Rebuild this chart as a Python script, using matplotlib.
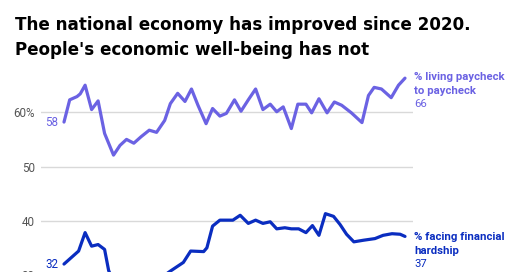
import matplotlib
matplotlib.use("Agg")
import matplotlib.pyplot as plt

plt.rcParams['font.family'] = ['Roboto', 'DejaVu Sans']

title_lines = ["The national economy has improved since 2020.",
               "People's economic well-being has not"]

# time as fractional year
paycheck_t = [2020.20, 2020.27, 2020.36, 2020.40, 2020.46, 2020.54, 2020.62, 2020.70,
              2020.81, 2020.89, 2020.97, 2021.06, 2021.15, 2021.25, 2021.34, 2021.44,
              2021.51, 2021.60, 2021.69, 2021.77, 2021.85, 2021.95, 2022.03, 2022.12,
              2022.20, 2022.30, 2022.38, 2022.47, 2022.56, 2022.65, 2022.74, 2022.82,
              2022.90, 2023.00, 2023.08, 2023.18, 2023.25, 2023.34, 2023.44, 2023.53,
              2023.62, 2023.74, 2023.87, 2023.95, 2024.02, 2024.11, 2024.23, 2024.32,
              2024.40]
paycheck_v = [58.2, 62.3, 62.9, 63.4, 65.0, 60.5, 62.1, 56.1,
              52.1, 53.9, 55.0, 54.3, 55.5, 56.7, 56.3, 58.5,
              61.6, 63.5, 62.0, 64.3, 61.3, 57.9, 60.7, 59.3,
              59.8, 62.3, 60.2, 62.3, 64.3, 60.5, 61.5, 60.1,
              61.0, 57.0, 61.5, 61.5, 59.9, 62.5, 59.9, 61.9,
              61.3, 59.9, 58.1, 63.1, 64.6, 64.3, 62.7, 65.0,
              66.3]

hardship_t = [2020.20, 2020.38, 2020.46, 2020.54, 2020.62, 2020.70, 2020.75,
              2020.85, 2021.00, 2021.20, 2021.35,
              2021.51, 2021.67, 2021.76, 2021.92, 2021.96, 2022.03, 2022.12,
              2022.28, 2022.37, 2022.47, 2022.56, 2022.65, 2022.74, 2022.82,
              2022.92, 2023.00, 2023.09, 2023.18, 2023.26, 2023.34, 2023.42,
              2023.52, 2023.60, 2023.68, 2023.77, 2023.89, 2024.03, 2024.13,
              2024.24, 2024.34, 2024.40]
hardship_v = [32.0, 34.4, 37.8, 35.3, 35.6, 34.7, 30.8,
              27.5, 26.8, 27.2, 29.0,
              30.7, 32.3, 34.4, 34.3, 35.0, 39.0, 40.1,
              40.1, 41.0, 39.5, 40.1, 39.5, 39.8, 38.5,
              38.7, 38.5, 38.5, 37.8, 39.1, 37.3, 41.3,
              40.8, 39.3, 37.5, 36.1, 36.4, 36.7, 37.3,
              37.6, 37.5, 37.1]

y_ticks = [30, 40, 50, 60]
y_tick_labels = ["30", "40", "50", "60%"]

paycheck_name = ["% living paycheck", "to paycheck"]
hardship_name = ["% facing financial", "hardship"]

PURPLE = "#6B62E3"
BLUE = "#0A2DC0"

W, H = 520, 272
fig = plt.figure(figsize=(W / 100, H / 100), dpi=100)

# axes in pixel geometry
y_lo, y_hi = 20, 70
px_per_unit = 5.42
y60 = 112.3
top_px = y60 - (y_hi - 60) * px_per_unit
bot_px = y60 + (60 - y_lo) * px_per_unit
left_px, right_px = 41, 413
ax = fig.add_axes([left_px / W, (H - bot_px) / H, (right_px - left_px) / W, (bot_px - top_px) / H])
ax.set_ylim(y_lo, y_hi)
px_per_year = (405 - 64) / (paycheck_t[-1] - paycheck_t[0])
ax.set_xlim(paycheck_t[0] - (64 - left_px) / px_per_year,
            paycheck_t[-1] + (right_px - 405) / px_per_year)

for s in ax.spines.values():
    s.set_visible(False)
ax.set_xticks([])
ax.set_yticks(y_ticks)
ax.set_yticklabels(y_tick_labels, color="#555555", fontsize=8.4)
ax.tick_params(axis='y', length=0, pad=4.5)
ax.grid(axis='y', color="#d9d9d9", linewidth=1.0)
ax.set_axisbelow(True)

ax.plot(paycheck_t, paycheck_v, color=PURPLE, lw=2.3, solid_joinstyle='round',
        solid_capstyle='round', zorder=3)
ax.plot(hardship_t, hardship_v, color=BLUE, lw=2.3, solid_joinstyle='round',
        solid_capstyle='round', zorder=3)

# start labels
ax.annotate(f"{paycheck_v[0]:.0f}", (paycheck_t[0], paycheck_v[0]), xytext=(-4, 0),
            textcoords='offset points', ha='right', va='center', color=PURPLE, fontsize=8.4)
ax.annotate(f"{hardship_v[0]:.0f}", (hardship_t[0], hardship_v[0]), xytext=(-4, 0),
            textcoords='offset points', ha='right', va='center', color=BLUE, fontsize=8.4)

# end labels
def end_label(lines, value, color, y_first_px):
    for i, ln in enumerate(lines):
        fig.text(414 / W, 1 - (y_first_px + i * 13.5) / H, ln, color=color, fontsize=8.2,
                 fontweight='bold', ha='left', va='center')
    fig.text(414 / W, 1 - (y_first_px + len(lines) * 13.5) / H, f"{value:.0f}", color=color,
             fontsize=8.2, ha='left', va='center')

end_label(paycheck_name, paycheck_v[-1], PURPLE, 77)
end_label(hardship_name, hardship_v[-1], BLUE, 237)

title_font = ['DejaVu Sans']
fig.text(15 / W, 1 - 30 / H, title_lines[0], fontsize=12.1, fontweight='bold',
         family=title_font, ha='left', va='baseline', color='black')
fig.text(15 / W, 1 - 55 / H, title_lines[1], fontsize=12.1, fontweight='bold',
         family=title_font, ha='left', va='baseline', color='black')

fig.savefig("out.png", dpi=100, facecolor='white')
